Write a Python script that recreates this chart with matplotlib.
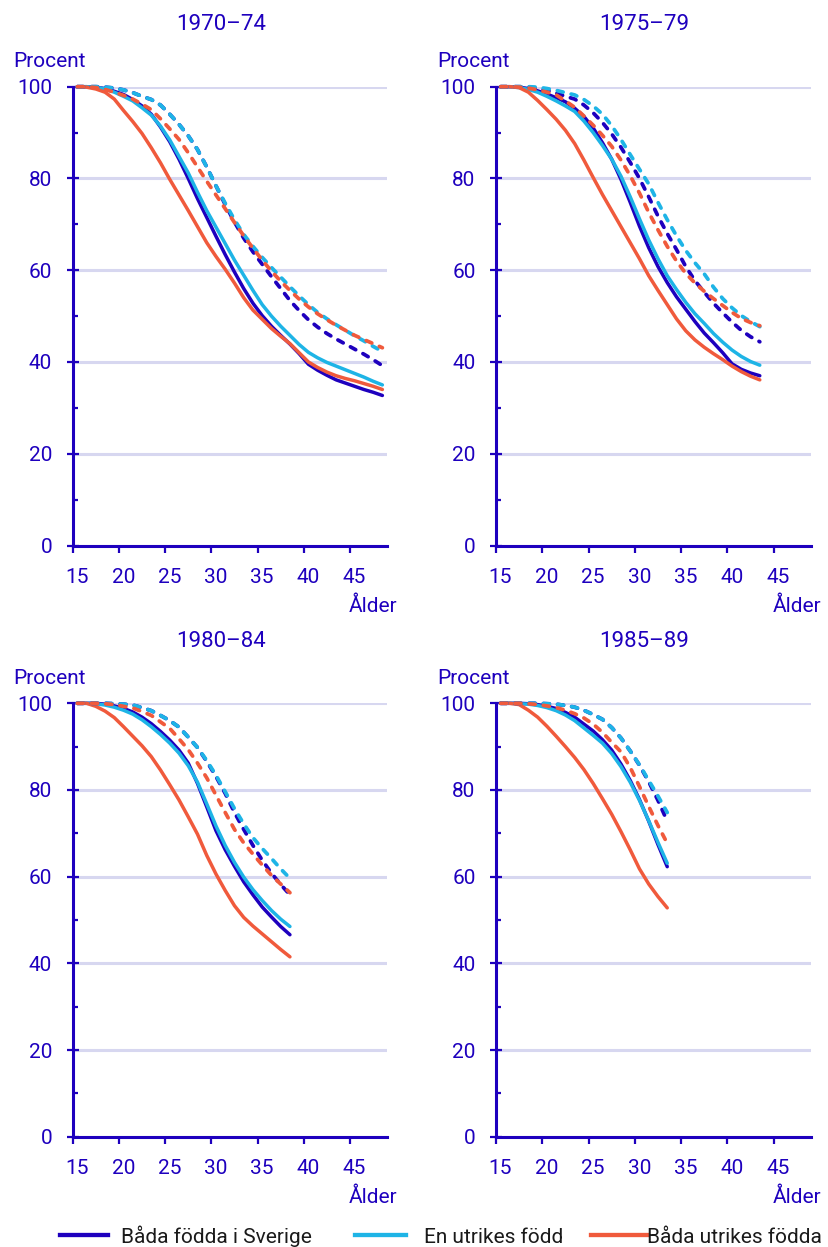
import numpy as np
import matplotlib
matplotlib.use('Agg')
import matplotlib.pyplot as plt
import matplotlib.transforms as mtransforms
from matplotlib.ticker import MultipleLocator
from matplotlib.lines import Line2D

plt.rcParams['font.family'] = ['Roboto', 'DejaVu Sans']

BLA = '#1e00be'
LJUSBLA = '#1eb4e6'
ORANGE = '#f05a3c'
GRID = '#d7d7f0'

titlar = ['1970–74', '1975–79', '1980–84', '1985–89']
serier = ['Båda födda i Sverige', 'En utrikes född', 'Båda utrikes födda']

# Ålder (mitt i ettårsklass)
alder_7074 = np.arange(15.5, 49.0)
alder_7579 = np.arange(15.5, 44.0)
alder_8084 = np.arange(15.5, 39.0)
alder_8589 = np.arange(15.5, 34.0)

# 1970-74, heldragna
sv_7074 = [100, 100, 99.9, 99.6, 99.0, 98.3, 97.2, 95.8, 94.0, 91.2, 88.0, 84.2, 80.0, 75.6, 71.5, 67.4, 63.4,
           59.6, 56.0, 52.8, 50.1, 47.8, 45.8, 43.9, 41.8, 39.5, 38.2, 37.1, 36.1, 35.4, 34.7, 34.0, 33.4, 32.7]
en_7074 = [100, 100, 99.9, 99.5, 98.8, 97.9, 96.9, 95.4, 93.8, 91.4, 88.4, 84.8, 81.2, 77.0, 73.0, 69.4, 65.8,
           62.2, 58.9, 55.6, 52.5, 50.0, 47.8, 45.8, 43.8, 42.1, 40.9, 39.9, 39.1, 38.3, 37.5, 36.7, 35.8, 35.0]
utr_7074 = [100, 99.9, 99.5, 98.8, 97.3, 94.8, 92.4, 89.8, 86.7, 83.4, 79.8, 76.4, 73.0, 69.5, 66.0, 63.0, 60.2,
            57.2, 54.0, 51.3, 49.3, 47.3, 45.6, 44.0, 42.0, 40.0, 38.8, 37.8, 37.0, 36.4, 35.9, 35.3, 34.7, 34.0]
# 1970-74, streckade
sv_7074_st = [100, 100, 100, 99.9, 99.7, 99.3, 98.7, 97.9, 97.2, 96.0, 94.0, 91.8, 89.3, 86.3, 82.5, 78.4, 74.3,
              70.5, 67.0, 64.0, 61.3, 58.6, 56.0, 53.4, 51.2, 49.2, 47.6, 46.2, 45.0, 43.9, 42.8, 41.7, 40.5, 39.2]
en_7074_st = [100, 100, 100, 99.9, 99.7, 99.3, 98.7, 97.9, 97.2, 96.0, 94.0, 91.8, 89.3, 86.3, 82.5, 78.4, 74.6,
              71.0, 67.8, 65.2, 62.8, 60.6, 58.5, 56.4, 54.4, 52.5, 50.8, 49.4, 48.1, 46.9, 45.7, 44.6, 43.4, 42.3]
utr_7074_st = [100, 100, 99.8, 99.4, 98.8, 98.1, 97.3, 96.2, 95.0, 93.0, 90.8, 88.5, 85.6, 82.5, 79.4, 76.4, 73.4,
               70.4, 67.5, 64.8, 62.2, 59.8, 57.6, 55.6, 53.7, 52.0, 50.5, 49.2, 48.0, 46.9, 45.8, 44.9, 44.0, 43.1]

# 1975-79
sv_7579 = [100, 100, 99.9, 99.6, 99.1, 98.4, 97.6, 96.7, 95.3, 93.5, 91.0, 87.8, 84.2, 79.8, 74.8, 69.6, 64.9,
           60.8, 57.3, 54.2, 51.5, 48.8, 46.3, 44.2, 42.0, 39.6, 38.4, 37.6, 37.0]
en_7579 = [100, 100, 99.8, 99.4, 98.8, 97.9, 96.9, 95.8, 94.6, 92.5, 90.0, 87.2, 84.2, 80.5, 76.0, 71.2, 66.6,
           62.5, 58.8, 55.8, 53.0, 50.5, 48.4, 46.2, 44.3, 42.6, 41.2, 40.1, 39.3]
utr_7579 = [100, 100, 99.8, 98.8, 97.0, 95.0, 92.9, 90.5, 87.6, 84.0, 80.2, 76.5, 73.0, 69.5, 66.0, 62.5, 58.8,
            55.6, 52.5, 49.4, 46.8, 44.8, 43.2, 41.8, 40.5, 39.1, 37.9, 36.9, 36.1]
sv_7579_st = [100, 100, 100, 99.9, 99.6, 99.2, 98.6, 97.9, 97.3, 96.0, 94.3, 92.2, 89.7, 86.8, 83.5, 80.0, 76.0,
              71.8, 68.0, 64.5, 60.8, 57.7, 55.2, 52.8, 50.7, 48.7, 46.9, 45.5, 44.4]
en_7579_st = [100, 100, 100, 100, 99.9, 99.6, 99.2, 98.7, 98.2, 97.2, 95.8, 94.0, 91.5, 88.5, 85.2, 82.0, 78.8,
              74.8, 71.0, 67.5, 64.3, 61.6, 59.2, 56.3, 53.8, 51.8, 50.1, 48.8, 47.7]
utr_7579_st = [100, 100, 99.9, 99.7, 99.3, 98.8, 98.2, 96.9, 95.5, 93.6, 91.6, 89.4, 87.0, 84.0, 80.6, 76.8, 72.6,
               68.8, 65.2, 62.0, 59.3, 57.2, 55.4, 53.8, 52.3, 50.8, 49.5, 48.6, 47.9]

# 1980-84
sv_8084 = [100, 100, 100, 99.8, 99.4, 98.8, 98.0, 96.8, 95.3, 93.5, 91.5, 89.2, 86.2, 81.5, 76.1, 70.6, 66.2,
           62.4, 58.8, 55.8, 53.0, 50.7, 48.5, 46.6]
en_8084 = [100, 100, 99.9, 99.6, 99.1, 98.4, 97.5, 96.2, 94.6, 92.8, 90.8, 88.5, 85.6, 81.8, 76.8, 71.7, 67.2,
           63.3, 59.9, 57.0, 54.5, 52.2, 50.2, 48.5]
utr_8084 = [100, 100, 99.3, 98.2, 96.7, 94.6, 92.4, 90.2, 87.7, 84.6, 81.2, 77.7, 73.8, 69.8, 64.9, 60.6, 56.8,
            53.3, 50.6, 48.6, 46.8, 45.0, 43.2, 41.5]
sv_8084_st = [100, 100, 100, 100, 99.9, 99.8, 99.6, 99.0, 98.3, 97.2, 96.0, 94.5, 92.2, 89.8, 86.6, 83.1, 79.2,
              74.8, 70.9, 67.2, 63.8, 60.8, 58.2, 55.8]
en_8084_st = [100, 100, 100, 100, 99.9, 99.8, 99.6, 99.0, 98.3, 97.2, 96.0, 94.5, 92.2, 89.8, 86.8, 83.4, 79.6,
              75.7, 72.2, 69.0, 66.5, 64.2, 61.8, 59.6]
utr_8084_st = [100, 100, 100, 99.9, 99.7, 99.3, 98.9, 98.1, 97.2, 95.7, 94.2, 91.8, 89.3, 86.2, 82.8, 78.8, 74.8,
               70.9, 67.8, 65.2, 62.7, 60.3, 58.3, 56.3]

# 1985-89
sv_8589 = [100, 100, 100, 99.9, 99.7, 99.3, 98.8, 97.9, 96.8, 95.2, 93.6, 91.6, 89.2, 86.0, 82.2, 77.8, 72.8,
           67.4, 62.3]
en_8589 = [100, 100, 99.9, 99.8, 99.5, 99.0, 98.3, 97.3, 96.0, 94.3, 92.6, 90.8, 88.4, 85.4, 81.8, 77.6, 72.9,
           67.9, 63.1]
utr_8589 = [100, 100, 99.7, 98.4, 96.8, 94.7, 92.4, 90.0, 87.5, 84.7, 81.5, 78.0, 74.4, 70.4, 66.2, 61.8, 58.3,
            55.4, 52.8]
sv_8589_st = [100, 100, 100, 100, 100, 99.9, 99.8, 99.5, 99.1, 98.4, 97.4, 96.3, 94.4, 92.0, 89.0, 85.7, 81.9,
              77.6, 72.8]
en_8589_st = [100, 100, 100, 100, 100, 99.9, 99.8, 99.5, 99.1, 98.4, 97.4, 96.3, 94.4, 92.0, 89.0, 85.8, 82.2,
              78.6, 74.8]
utr_8589_st = [100, 100, 100, 99.9, 99.7, 99.4, 99.0, 98.4, 97.6, 96.6, 95.2, 93.3, 91.0, 88.8, 85.2, 80.8, 76.2,
               71.8, 67.7]

paneler = [
    (alder_7074, [sv_7074, en_7074, utr_7074], [sv_7074_st, en_7074_st, utr_7074_st]),
    (alder_7579, [sv_7579, en_7579, utr_7579], [sv_7579_st, en_7579_st, utr_7579_st]),
    (alder_8084, [sv_8084, en_8084, utr_8084], [sv_8084_st, en_8084_st, utr_8084_st]),
    (alder_8589, [sv_8589, en_8589, utr_8589], [sv_8589_st, en_8589_st, utr_8589_st]),
]
farger = [BLA, LJUSBLA, ORANGE]

W, H = 829, 1247
fig = plt.figure(figsize=(W / 100, H / 100), dpi=100)

# axlarnas rutor i pixlar: vänster, topp, höger, botten
rutor = [(72.7, 86.7, 387, 545.5), (496, 86.7, 810.7, 545.5),
         (72.7, 703.3, 387, 1136.7), (496, 703.3, 810.7, 1136.7)]

for (alder, heldragna, streckade), titel, (l, t, r, b) in zip(paneler, titlar, rutor):
    ax = fig.add_axes([l / W, 1 - b / H, (r - l) / W, (b - t) / H])

    for vals, c in zip(heldragna, farger):
        ax.plot(alder, vals, color=c, lw=2.5, solid_capstyle='round', clip_on=False, zorder=3)
    for vals, c in zip(streckade, farger):
        ax.plot(alder, vals, color=c, lw=2.7, ls=(0, (1.6, 2.2)), dash_capstyle='round',
                clip_on=False, zorder=4)

    ax.set_xlim(15, 49)
    ax.set_ylim(0, 100)
    ax.set_xticks([15, 20, 25, 30, 35, 40, 45])
    ax.set_yticks([0, 20, 40, 60, 80, 100])
    ax.yaxis.set_minor_locator(MultipleLocator(10))

    for s in ['top', 'right']:
        ax.spines[s].set_visible(False)
    for s in ['left', 'bottom']:
        ax.spines[s].set_color(BLA)
        ax.spines[s].set_linewidth(2.2)

    ax.yaxis.grid(True, color=GRID, lw=2.2)
    ax.set_axisbelow(True)

    ax.tick_params(axis='y', which='major', direction='inout', length=8.5, width=1.6, color=BLA,
                   labelcolor=BLA, labelsize=15, pad=10.5)
    ax.tick_params(axis='y', which='minor', direction='in', length=3.5, width=1.6, color=BLA)
    ax.tick_params(axis='x', which='major', direction='out', length=4.8, width=1.6, color=BLA,
                   labelcolor=BLA, labelsize=15, pad=11.5)
    skift = mtransforms.ScaledTranslation(0.045, 0, fig.dpi_scale_trans)
    for lab in ax.get_xticklabels():
        lab.set_transform(lab.get_transform() + skift)

    ax.annotate(titel, xy=(0.5, 1), xycoords='axes fraction', xytext=(-9, 62),
                textcoords='offset pixels', ha='center', va='center', fontsize=16, color=BLA)
    ax.annotate('Procent', xy=(0, 1), xycoords='axes fraction', xytext=(-59, 25),
                textcoords='offset pixels', ha='left', va='center', fontsize=15, color=BLA)
    ax.annotate('Ålder', xy=(1, 0), xycoords='axes fraction', xytext=(10.5, -61),
                textcoords='offset pixels', ha='right', va='center', fontsize=15, color=BLA)

# teckenförklaring, ritad för hand så att baslinjerna hamnar lika
# (linjens start, linjens slut, textens start) i pixlar
nyckel_pos = [(60, 108, 121), (355, 406, 424), (591, 647, 647)]
y_linje = 1 - 1235 / H
y_text = 1 - 1243 / H
for namn, c, (x0, x1, xt) in zip(serier, farger, nyckel_pos):
    fig.add_artist(Line2D([x0 / W, x1 / W], [y_linje, y_linje], transform=fig.transFigure,
                          color=c, lw=3.1))
    fig.text(xt / W, y_text, namn, ha='left', va='baseline', fontsize=15, color='#1a1a1a')

fig.savefig('out.png', dpi=100, facecolor='white')
